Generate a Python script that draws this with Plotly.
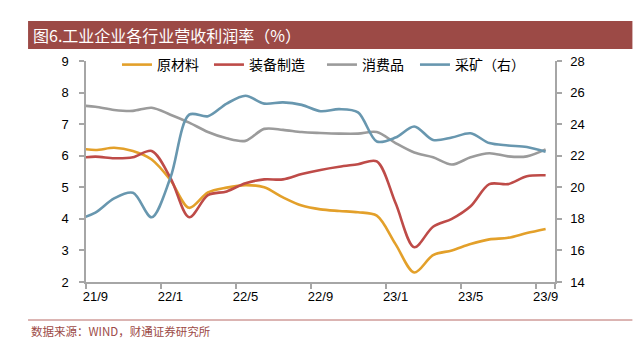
import plotly.graph_objects as go

months = ["21/8", "21/9", "21/10", "21/11", "21/12", "22/1", "22/2", "22/3", "22/4", "22/5",
          "22/6", "22/7", "22/8", "22/9", "22/10", "22/11", "22/12", "23/1", "23/2", "23/3",
          "23/4", "23/5", "23/6", "23/7", "23/8", "23/9"]
tick_labels = ["21/9", "22/1", "22/5", "22/9", "23/1", "23/5", "23/9"]

raw_materials = [6.25, 6.18, 6.25, 6.15, 5.88, 5.23, 4.35, 4.84, 4.99, 5.07,
                 5.0, 4.68, 4.42, 4.3, 4.25, 4.21, 4.1, 3.2, 2.3, 2.85,
                 3.0, 3.2, 3.35, 3.4, 3.55, 3.68]
equipment = [5.92, 5.97, 5.92, 5.95, 6.15, 5.3, 4.05, 4.75, 4.87, 5.13,
             5.25, 5.25, 5.42, 5.55, 5.65, 5.73, 5.82, 4.5, 3.1, 3.75,
             4.0, 4.4, 5.1, 5.1, 5.35, 5.38]
consumer = [7.6, 7.55, 7.45, 7.42, 7.52, 7.3, 7.05, 6.75, 6.55, 6.47,
            6.85, 6.82, 6.75, 6.72, 6.7, 6.7, 6.75, 6.4, 6.1, 5.95,
            5.72, 5.95, 6.08, 5.98, 5.98, 6.2]
mining = [17.95, 18.4, 19.3, 19.65, 18.1, 20.6, 24.6, 24.5, 25.3, 25.8,
          25.3, 25.38, 25.22, 24.82, 24.95, 24.75, 22.9, 23.15, 23.85, 23.0,
          23.15, 23.42, 22.8, 22.65, 22.55, 22.25]

names = ["原材料", "装备制造", "消费品", "采矿（右）"]
colors = ["#E3A02A", "#BE4B48", "#9B9B9B", "#6897AF"]
legend_widths = [47, 68, 48, 70]

W, H = 633, 340
L, R, T, B = 86, 555.5, 61, 282
pw, ph = R - L, B - T

def px(x):
    return (x - L) / pw

def py(y):
    return (B - y) / ph

fig = go.Figure()
for vals, name, col, ax, lw in zip([raw_materials, equipment, consumer, mining], names, colors,
                                   ["y", "y", "y", "y2"], legend_widths):
    fig.add_trace(go.Scatter(x=months, y=vals, name=name, mode="lines", yaxis=ax,
                             legendwidth=lw,
                             line=dict(color=col, width=2.6, shape="spline", smoothing=0.9)))

axis_col = "#A6A6A6"
tickfont = dict(family="Liberation Sans, Arial", size=13, color="#000000")
fig.update_layout(
    width=W, height=H,
    margin=dict(l=L, r=W - R, t=T, b=H - B),
    paper_bgcolor="white", plot_bgcolor="white",
    showlegend=True,
    legend=dict(orientation="h", x=px(117), y=py(65), xanchor="left", yanchor="middle",
                font=dict(family="Noto Sans CJK SC", size=14, color="#000000"),
                bgcolor="rgba(0,0,0,0)", itemwidth=30, tracegroupgap=0),
    xaxis=dict(type="category", range=[0.5, len(months) - 0.5], tickmode="array",
               tickvals=tick_labels, ticktext=tick_labels, tickson="boundaries",
               tickangle=0,
               showgrid=False, zeroline=False, showline=True, linecolor=axis_col, linewidth=1.5,
               ticks="outside", ticklen=5, tickcolor=axis_col, tickwidth=1.5,
               tickfont=tickfont, ticklabelstandoff=2),
    yaxis=dict(range=[2, 9], dtick=1, tick0=2, showgrid=False, zeroline=False,
               showline=True, linecolor=axis_col, linewidth=1.5,
               ticks="outside", ticklen=5, tickcolor=axis_col, tickwidth=1.5,
               tickfont=tickfont, ticklabelstandoff=8),
    yaxis2=dict(range=[14, 28], dtick=2, tick0=14, overlaying="y", side="right",
                showgrid=False, zeroline=False,
                showline=True, linecolor=axis_col, linewidth=1.5,
                ticks="outside", ticklen=5, tickcolor=axis_col, tickwidth=1.5,
                tickfont=tickfont, ticklabelstandoff=6),
)

band_col = "#9C4A46"
fig.add_shape(type="rect", xref="paper", yref="paper", x0=px(28), x1=px(633), y0=py(49), y1=py(21),
              fillcolor=band_col, line=dict(width=0), layer="below")
fig.add_shape(type="line", xref="paper", yref="paper", x0=px(28), x1=px(633), y0=py(320), y1=py(320),
              line=dict(color="#B86A66", width=1))
fig.add_annotation(text="图6.工业企业各行业营收利润率（%）", xref="paper", yref="paper",
                   x=px(31), y=py(35), xanchor="left", yanchor="middle", showarrow=False,
                   font=dict(family="Noto Sans CJK SC", size=16, color="white"))
fig.add_annotation(text="数据来源：WIND，财通证券研究所", xref="paper", yref="paper",
                   x=px(29), y=py(331), xanchor="left", yanchor="middle", showarrow=False,
                   font=dict(family="Noto Sans CJK SC", size=11.5, color=band_col))

fig.write_html("out.html")
